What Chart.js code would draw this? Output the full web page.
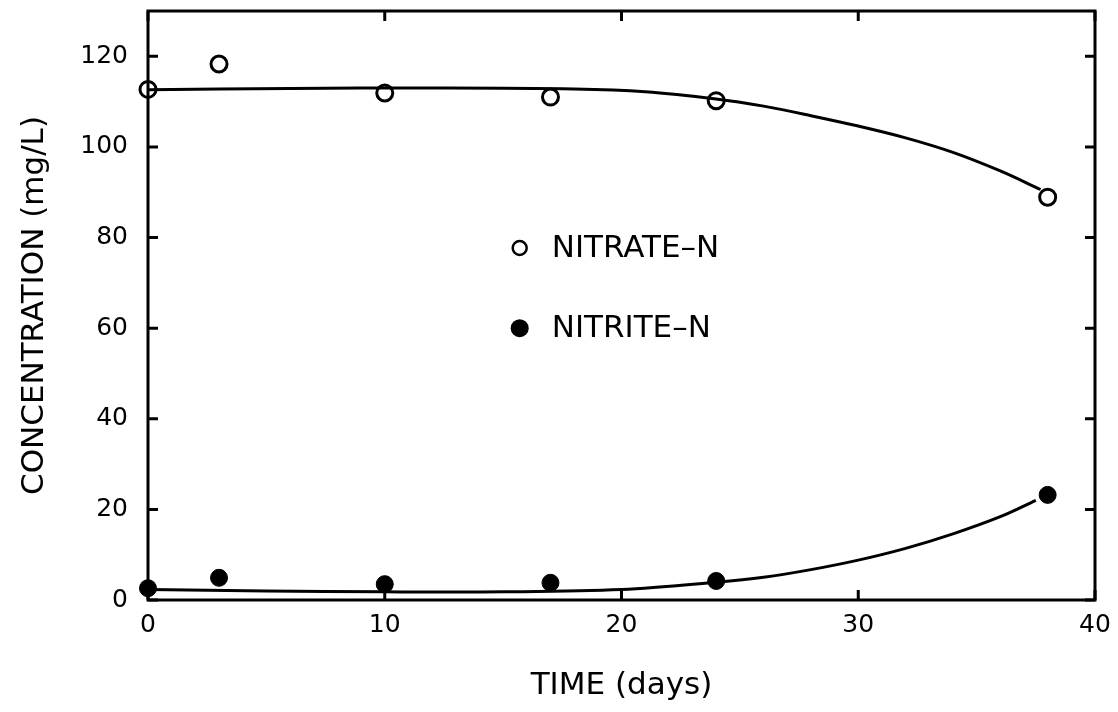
<!DOCTYPE html>
<html>
  <head>
    <meta charset="utf-8">
    <title>Nitrate and nitrite concentration</title>
    <script src="https://cdn.jsdelivr.net/npm/chart.js"></script>
    <style>
      html, body { margin: 0; padding: 0; background: #fff; }
      #wrap { width: 1118px; height: 712px; }
    </style>
  </head>
  <body>
    <div id="wrap"><canvas id="myChart"></canvas></div>
    <script>
      // measured values (days, mg/L)
      const days = [0, 3, 10, 17, 24, 38];
      const nitrate = [112.7, 118.3, 111.9, 111.0, 110.2, 88.9];
      const nitrite = [2.6, 4.9, 3.5, 3.8, 4.2, 23.2];

      // fitted curves
      const nitrateFitX = [0, 6, 12, 18, 21, 24, 26, 28, 30, 32, 34, 36, 37.7];
      const nitrateFitY = [112.6, 112.9, 113.0, 112.8, 112.2, 110.6, 109.0, 106.9, 104.6, 102.0, 98.8, 94.7, 90.6];
      const nitriteFitX = [0, 5, 10, 15, 20, 24, 26, 28, 30, 32, 34, 36, 37.5];
      const nitriteFitY = [2.3, 2.0, 1.8, 1.8, 2.3, 3.9, 5.0, 6.7, 8.8, 11.4, 14.6, 18.4, 22.0];

      const xTicks = [0, 10, 20, 30, 40];
      const yTicks = [0, 20, 40, 60, 80, 100, 120];
      const seriesLabels = ['NITRATE\u2013N', 'NITRITE\u2013N'];

      const pts = (xs, ys) => xs.map((x, i) => ({x: x, y: ys[i]}));

      Chart.defaults.font.family = 'DejaVu Sans';
      Chart.defaults.color = '#000';

      // frame with inward ticks on all four sides
      const frameTicks = {
        id: 'frameTicks',
        beforeDatasetsDraw(chart) {
          const {ctx, chartArea: a, scales} = chart;
          const len = 10;
          ctx.save();
          ctx.strokeStyle = '#000';
          ctx.lineWidth = 3;
          ctx.strokeRect(a.left, a.top, a.right - a.left, a.bottom - a.top);
          ctx.beginPath();
          xTicks.forEach(v => {
            const px = scales.x.getPixelForValue(v);
            ctx.moveTo(px, a.bottom); ctx.lineTo(px, a.bottom - len);
            ctx.moveTo(px, a.top); ctx.lineTo(px, a.top + len);
          });
          yTicks.forEach(v => {
            const py = scales.y.getPixelForValue(v);
            ctx.moveTo(a.left, py); ctx.lineTo(a.left + len, py);
            ctx.moveTo(a.right, py); ctx.lineTo(a.right - len, py);
          });
          ctx.stroke();
          ctx.restore();
        }
      };

      // legend inside the plot
      const innerLegend = {
        id: 'innerLegend',
        afterDatasetsDraw(chart) {
          const {ctx, scales} = chart;
          const mx = scales.x.getPixelForValue(15.7);
          const rows = [77.7, 60];
          ctx.save();
          ctx.font = '31px "DejaVu Sans"';
          ctx.textBaseline = 'middle';
          ctx.fillStyle = '#000';
          ctx.strokeStyle = '#000';
          rows.forEach((v, i) => {
            const py = scales.y.getPixelForValue(v);
            ctx.beginPath();
            if (i === 0) {
              ctx.lineWidth = 2.5;
              ctx.arc(mx, py, 7, 0, Math.PI * 2);
              ctx.stroke();
            } else {
              ctx.arc(mx, py, 9, 0, Math.PI * 2);
              ctx.fill();
            }
            ctx.fillText(seriesLabels[i], mx + 32, py + 1);
          });
          ctx.restore();
        }
      };

      const data = {
        datasets: [
          {
            label: 'nitrate fit',
            data: pts(nitrateFitX, nitrateFitY),
            showLine: true, borderColor: '#000', borderWidth: 3,
            pointRadius: 0, tension: 0.35, clip: false
          },
          {
            label: 'nitrite fit',
            data: pts(nitriteFitX, nitriteFitY),
            showLine: true, borderColor: '#000', borderWidth: 3,
            pointRadius: 0, tension: 0.35, clip: false
          },
          {
            label: seriesLabels[0],
            data: pts(days, nitrate),
            showLine: false, pointRadius: 8, borderWidth: 3,
            borderColor: '#000', backgroundColor: 'rgba(0,0,0,0)', clip: false
          },
          {
            label: seriesLabels[1],
            data: pts(days, nitrite),
            showLine: false, pointRadius: 8.5, borderWidth: 1,
            borderColor: '#000', backgroundColor: '#000', clip: false
          }
        ]
      };

      const noPad = s => { s.paddingTop = 0; s.paddingBottom = 0; s.paddingLeft = 0; s.paddingRight = 0; };

      const options = {
        responsive: true,
        maintainAspectRatio: false,
        animation: false,
        layout: { padding: { top: 10, right: 23, left: 0, bottom: 0 } },
        plugins: { legend: { display: false }, tooltip: { enabled: false } },
        scales: {
          x: {
            type: 'linear', min: 0, max: 40,
            afterFit: s => { s.height = 112; noPad(s); },
            afterBuildTicks: s => { s.ticks = xTicks.map(v => ({value: v})); },
            grid: { display: false, drawTicks: false },
            border: { display: false },
            ticks: { font: { size: 25 }, padding: 10, maxRotation: 0 },
            title: { display: true, text: 'TIME (days)', font: { size: 31 }, padding: { top: 0, bottom: 7 } }
          },
          y: {
            type: 'linear', min: 0, max: 130,
            afterFit: s => { s.width = 148; noPad(s); },
            afterBuildTicks: s => { s.ticks = yTicks.map(v => ({value: v})); },
            grid: { display: false, drawTicks: false },
            border: { display: false },
            ticks: { font: { size: 25 }, padding: 20 },
            title: { display: true, text: 'CONCENTRATION (mg/L)', font: { size: 31 }, padding: { top: 16, bottom: 0 } }
          }
        }
      };

      const ctx = document.getElementById('myChart').getContext('2d');
      new Chart(ctx, {
        type: 'scatter',
        data: data,
        options: options,
        plugins: [frameTicks, innerLegend]
      });
    </script>
  </body>
</html>
